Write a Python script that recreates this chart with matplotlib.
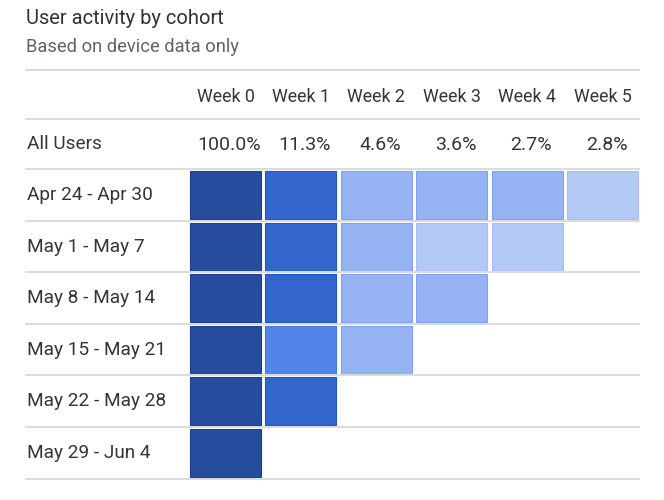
import numpy as np
import matplotlib.pyplot as plt
from matplotlib.colors import ListedColormap, BoundaryNorm
from matplotlib.patches import Rectangle

plt.rcParams['font.family'] = ['Roboto', 'DejaVu Sans']

weeks = ['Week 0', 'Week 1', 'Week 2', 'Week 3', 'Week 4', 'Week 5']
all_users = [100.0, 11.3, 4.6, 3.6, 2.7, 2.8]
cohorts = ['Apr 24 - Apr 30', 'May 1 - May 7', 'May 8 - May 14',
           'May 15 - May 21', 'May 22 - May 28', 'May 29 - Jun 4']
# estimated retention per cohort (not printed in the original)
retention = [
    [100, 12.0, 4.5, 4.2, 4.0, 2.5],
    [100, 11.5, 4.5, 2.4, 2.0],
    [100, 11.0, 4.7, 4.3],
    [100, 8.5, 4.8],
    [100, 11.0],
    [100],
]

cmap = ListedColormap(['#b3c8f5', '#95b3f2', '#5484ea', '#3266cc', '#274c9e'])
edges = ListedColormap(['#a5bdf3', '#7fa1ef', '#4676e6', '#1f55c8', '#1c3f8e'])
norm = BoundaryNorm([0, 3.5, 6, 10, 50, 101], cmap.N)

fig = plt.figure(figsize=(6.64, 5.0), dpi=100)
ax = fig.add_axes([0, 0, 1, 1])
ax.set_xlim(0, 664)
ax.set_ylim(500, 0)
ax.axis('off')

x0, col_w, cell_w = 190, 75.4, 71
y0, row_h, cell_h = 171, 51.6, 48
grid = '#dadce0'
dark = '#333538'

ax.text(26, 18, 'User activity by cohort', fontsize=14.5, color='#2f3235',
        va='center', ha='left')
ax.text(26, 47, 'Based on device data only', fontsize=13.2, color='#5f6368',
        va='center', ha='left')

for y in [70, 119, 169] + [y0 - 2 + row_h * (i + 1) for i in range(len(cohorts))]:
    ax.plot([25, 640], [y, y], color=grid, lw=1.4, solid_capstyle='butt')

for j, w in enumerate(weeks):
    cx = x0 + j * col_w + cell_w / 2
    ax.text(cx, 97, w, fontsize=12.8, color=dark, ha='center', va='center')
    ax.text(cx + 4, 145, f'{all_users[j]:.1f}%', fontsize=14, color=dark,
            ha='center', va='center')

ax.text(27, 144, 'All Users', fontsize=13.7, color=dark, va='center')

for i, (name, row) in enumerate(zip(cohorts, retention)):
    ytop = y0 + i * row_h
    ax.text(27, ytop + cell_h / 2, name, fontsize=13.7, color=dark, va='center')
    for j, v in enumerate(row):
        k = norm(v)
        ax.add_patch(Rectangle((x0 + j * col_w, ytop), cell_w, cell_h,
                               facecolor=cmap(k), edgecolor=edges(k), lw=0.8))

fig.savefig('out.png', dpi=100)
